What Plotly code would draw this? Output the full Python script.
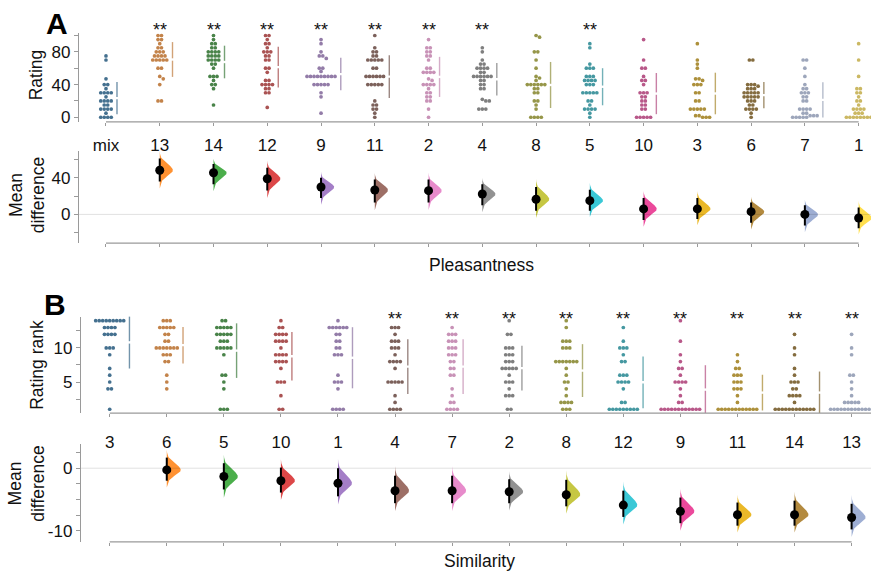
import numpy as np
import colorsys
import plotly.graph_objects as go

W, H = 871, 577

# ---------------- Panel A : Pleasantness ----------------
A_labels = ["mix", "13", "14", "12", "9", "11", "2", "4", "8", "5", "10", "3", "6", "7", "1"]
A_mix = [75, 70, 47, 40, 40, 35, 30, 30, 30, 30, 25, 20, 20, 20, 20, 15, 15, 10, 10, 10, 10, 5, 0, 0, 0, 0]
A_13 = [100, 100, 95, 95, 90, 85, 85, 80, 80, 80, 75, 75, 75, 75, 70, 70, 70, 70, 70, 60, 60, 50, 47, 40, 20, 20]
A_14 = [100, 95, 90, 90, 85, 85, 80, 80, 80, 80, 75, 75, 75, 75, 70, 70, 70, 70, 65, 65, 60, 50, 50, 50, 45, 40, 40, 35, 15]
A_12 = [100, 100, 95, 90, 90, 85, 80, 80, 80, 75, 75, 70, 70, 60, 60, 55, 45, 45, 40, 40, 40, 40, 35, 35, 30, 30, 12]
A_9 = [95, 90, 80, 75, 75, 72, 60, 60, 56] + [50] * 9 + [40] * 5 + [30, 25, 5]
A_11 = [100, 85, 80, 80, 75, 75] + [70] * 5 + [60, 60] + [50] * 6 + [40] * 5 + [20, 15, 15, 10, 10, 5, 0]
A_2 = [95, 85, 85, 80, 80, 75, 75, 70, 60, 60, 55, 55, 55, 55, 47, 45, 40, 40, 40, 40, 35, 30, 30, 25, 25, 20, 20, 10, 0]
A_4 = [85, 80, 70, 65, 65, 60, 60, 60, 60, 55, 55] + [50] * 6 + [45, 45, 40, 40, 35, 35, 22, 20, 20, 10, 10, 10]
A_8 = [100, 98, 80, 80, 70, 60, 50, 48, 45] + [40] * 6 + [35, 35, 30, 30, 20, 20, 15, 10, 0, 0, 0, 0]
A_5 = [90, 85, 65, 60, 60, 60, 50, 50, 50, 45, 45, 45, 45, 40, 40, 40, 30, 30, 30, 30, 30, 20, 20, 15, 10, 10, 10, 10, 5, 0]
A_10 = [95, 70, 60, 60, 50, 45, 45, 40, 30, 30, 30, 25, 25, 20, 20, 15, 15, 10, 10, 0, 0, 0, 0, 0]
A_3 = [90, 70, 65, 60, 47, 47, 45, 40, 40, 40, 30, 30, 20, 20, 10, 10, 10, 10, 10, 2, 2, 0, 0, 0]
A_6 = [70, 70, 40, 40, 40, 38, 35, 35, 35, 30, 30, 30, 30, 30, 25, 25, 25, 25, 25, 20, 20, 20, 15, 15, 10, 10, 10, 10, 5, 0]
A_7 = [70, 70, 60, 50, 40, 35, 35, 30, 30, 30, 25, 25, 20, 20, 10, 10, 10, 10, 5, 5, 2, 2, 2, 0, 0, 0, 0, 0]
A_1 = [90, 70, 50, 35, 35, 30, 30, 25, 20, 20, 15, 10, 10, 10, 10, 5, 5, 5, 0, 0, 0, 0, 0, 0, 0, 0]
A_groups = [A_mix, A_13, A_14, A_12, A_9, A_11, A_2, A_4, A_8, A_5, A_10, A_3, A_6, A_7, A_1]
A_sig = ["13", "14", "12", "9", "11", "2", "4", "5"]
# mean differences vs "mix" (13 ... 1) with 95% CI
A_diff = [48.2, 45.4, 38.9, 29.9, 26.6, 25.9, 22.3, 16.5, 15.0, 6.0, 6.0, 3.0, 0.0, -4.0]
A_ci_lo = [36, 33, 26, 18, 13, 13, 10, 4, 4, -6, -5, -9, -12, -15]
A_ci_hi = [61, 55, 51, 40, 38, 38, 33, 30, 27, 18, 18, 13, 10, 7.6]

# ---------------- Panel B : Similarity ----------------
B_labels = ["3", "6", "5", "10", "1", "4", "7", "2", "8", "12", "9", "11", "14", "13"]
B_3 = [14] * 9 + [13] * 4 + [12] * 4 + [10] * 3 + [9, 7, 6, 5, 4, 4, 1]
B_6 = [14] * 3 + [13] * 5 + [12] * 2 + [11] * 2 + [10] * 7 + [9] * 3 + [8] * 2 + [6, 5, 4]
B_5 = [14] * 2 + [13] * 5 + [12] * 5 + [11] * 3 + [10] * 5 + [9, 6, 6, 5, 4, 1, 1, 1]
B_10 = [14] + [13] * 2 + [12] * 4 + [11] * 4 + [10] + [9] * 4 + [8] * 4 + [7] + [5] * 3 + [3, 1, 1]
B_1 = [14] + [13] * 6 + [12] * 2 + [11] * 2 + [10] * 2 + [9] * 3 + [6] + [5] * 3 + [4] + [1] * 4
B_4 = [13] * 3 + [12] + [11] * 3 + [10] * 3 + [9] + [8] * 4 + [7] + [5] * 5 + [3, 2] + [1] * 4
B_7 = [13] + [12] * 3 + [11] * 3 + [10] * 3 + [9] * 3 + [8] * 2 + [7] * 2 + [6] * 2 + [4, 3, 2, 2] + [1] * 4
B_2 = [14] + [12] * 2 + [10] * 3 + [9] * 3 + [8] * 3 + [7] * 5 + [6] + [5] * 3 + [4] + [3] * 3 + [1] * 2
B_8 = [14, 13] + [11] * 3 + [10] * 3 + [8] * 7 + [7, 6, 5, 5, 4, 3] + [2] * 4 + [1] * 3
B_12 = [13, 11] + [10] * 3 + [9] + [8] * 2 + [6] * 3 + [5] * 4 + [4] + [2] * 2 + [1] * 9
B_9 = [14, 11, 9, 8, 7, 7, 6] + [5] * 4 + [4, 3, 2, 2] + [1] * 12
B_11 = [9, 8, 7, 7] + [6] * 3 + [5] * 3 + [4] * 3 + [3, 2] + [1] * 12
B_14 = [12, 10, 9, 7, 6] + [5] * 3 + [4] * 2 + [3] * 4 + [2] + [1] * 12
B_13 = [12, 10, 9, 6, 6, 5, 4, 3] + [2] * 5 + [1] * 13
B_groups = [B_3, B_6, B_5, B_10, B_1, B_4, B_7, B_2, B_8, B_12, B_9, B_11, B_14, B_13]
B_sig = ["4", "7", "2", "8", "12", "9", "11", "14", "13"]
# mean differences vs "3" (6 ... 13) with 95% CI
B_diff = [-0.27, -1.33, -2.0, -2.4, -3.6, -3.6, -3.76, -4.24, -5.9, -6.9, -7.46, -7.46, -7.9]
B_ci_lo = [-2.0, -3.4, -3.9, -4.5, -5.6, -5.6, -5.6, -6.1, -7.8, -8.8, -9.2, -9.2, -9.8]
B_ci_hi = [1.7, 0.8, 0.1, 0.0, -1.2, -1.2, -1.75, -1.86, -3.6, -4.7, -5.5, -5.2, -5.7]

palette = ['#1f77b4', '#ff7f0e', '#2ca02c', '#d62728', '#9467bd', '#8c564b', '#e377c2',
           '#7f7f7f', '#bcbd22', '#17becf', '#e7298a', '#e6ab02', '#a6761d', '#8da0cb', '#ffd92f']

GRAY = '#9a9a9a'
TXT = '#111111'
FONT = 'Liberation Sans, Arial, sans-serif'


def desat(hexc, p):
    r, g, b = (int(hexc[i:i + 2], 16) / 255 for i in (1, 3, 5))
    h, l, s = colorsys.rgb_to_hls(r, g, b)
    r, g, b = colorsys.hls_to_rgb(h, l, s * p)
    return '#%02x%02x%02x' % (round(r * 255), round(g * 255), round(b * 255))


def ydom(top_px, bot_px):
    return [1 - bot_px / H, 1 - top_px / H]


def swarm_x(values, ppx, ppy, d=3.5):
    vals = np.asarray(values, float)
    xs = np.zeros(len(vals))
    px_l, py_l = [], []
    for v in sorted(set(vals.tolist()), reverse=True):
        idx = np.where(vals == v)[0]
        k = len(idx)
        base = (np.arange(k) - (k - 1) / 2) * d
        y = v * ppy
        chosen = base
        if px_l:
            pxa, pya = np.array(px_l), np.array(py_l)
            for s in [0, 0.5, -0.5, 1, -1, 1.5, -1.5, 2, -2, 2.5, -2.5, 3, -3]:
                cand = base + s * d
                dist2 = (cand[:, None] - pxa[None, :]) ** 2 + (y - pya[None, :]) ** 2
                if np.all(dist2 >= (0.95 * d) ** 2):
                    chosen = cand
                    break
        xs[idx] = chosen
        px_l.extend(chosen.tolist())
        py_l.extend([y] * k)
    return xs / ppx, (np.max(np.abs(xs)) + d / 2)


fig = go.Figure()


def add_swarms(groups, xa, ya, ppx, ppy):
    for i, vals in enumerate(groups):
        col = desat(palette[i], 0.5)
        offs, half_px = swarm_x(vals, ppx, ppy)
        fig.add_trace(go.Scatter(x=i + offs, y=vals, mode='markers', xaxis=xa, yaxis=ya,
                                 marker=dict(size=3.7, color=col, line=dict(width=0)),
                                 showlegend=False, hoverinfo='skip'))
        m = float(np.mean(vals))
        sd = float(np.std(vals, ddof=1))
        lx = i + (half_px + 4) / ppx
        gap = 1.2 / ppy
        fig.add_trace(go.Scatter(x=[lx, lx, None, lx, lx], y=[m - sd, m - gap, None, m + gap, m + sd],
                                 mode='lines', xaxis=xa, yaxis=ya, opacity=0.75,
                                 line=dict(color=col, width=1.4),
                                 showlegend=False, hoverinfo='skip'))


def add_diffs(diff, lo, hi, xa, ya, width):
    for j, (m, l, h) in enumerate(zip(diff, lo, hi)):
        pos = j + 1
        su, sl = (h - m) / 1.96, (m - l) / 1.96
        z = np.linspace(-3.2, 3.2, 121)
        yv = np.where(z < 0, m + z * sl, m + z * su)
        xv = pos + width * np.exp(-0.5 * z ** 2)
        fig.add_trace(go.Scatter(x=np.concatenate([[pos], xv, [pos]]),
                                 y=np.concatenate([[yv[0]], yv, [yv[-1]]]),
                                 mode='lines', fill='toself', fillcolor=palette[pos],
                                 line=dict(width=0), opacity=0.85, xaxis=xa, yaxis=ya,
                                 showlegend=False, hoverinfo='skip'))
    xs, ys = [], []
    for j, (l, h) in enumerate(zip(lo, hi)):
        xs += [j + 1, j + 1, None]
        ys += [l, h, None]
    fig.add_trace(go.Scatter(x=xs, y=ys, mode='lines', line=dict(color='black', width=2),
                             xaxis=xa, yaxis=ya, showlegend=False, hoverinfo='skip'))
    fig.add_trace(go.Scatter(x=list(range(1, len(diff) + 1)), y=diff, mode='markers',
                             marker=dict(color='black', size=9), xaxis=xa, yaxis=ya,
                             showlegend=False, hoverinfo='skip'))


# geometry (pixel scales)
A_ppx, B_ppx = 53.76, 57.08
A_top_ppy, B_top_ppy = 0.825, 6.87

add_swarms(A_groups, 'x', 'y', A_ppx, A_top_ppy)
add_diffs(A_diff, A_ci_lo, A_ci_hi, 'x2', 'y2', 0.245)
add_swarms(B_groups, 'x3', 'y3', B_ppx, B_top_ppy)
add_diffs(B_diff, B_ci_lo, B_ci_hi, 'x4', 'y4', 0.245)

A_xr = [-0.502, 14.23]
B_xr = [-0.503, 13.34]


def xax(dom, rng, anchor, labels, n, standoff=None):
    d = dict(domain=dom, range=rng, anchor=anchor, tickvals=list(range(n)),
             ticks='outside', ticklen=3, tickcolor=GRAY, tickwidth=1,
             showline=False, showgrid=False, zeroline=False,
             tickfont=dict(size=17, color=TXT, family=FONT))
    if labels is None:
        d['showticklabels'] = False
    else:
        d['ticktext'] = labels
        d['ticklabelstandoff'] = standoff
    return d


def yax(dom, rng, anchor, vals, texts):
    return dict(domain=dom, range=rng, anchor=anchor, tickvals=vals, ticktext=texts,
                ticks='outside', ticklen=4, tickcolor=GRAY, tickwidth=1,
                showline=True, linecolor=GRAY, linewidth=1.3,
                showgrid=False, zeroline=False,
                tickfont=dict(size=17, color=TXT, family=FONT))


fig.update_layout(
    width=W, height=H, margin=dict(l=0, r=0, t=0, b=0),
    paper_bgcolor='white', plot_bgcolor='white',
    font=dict(family=FONT, color=TXT, size=17),
    xaxis=xax([79 / W, 1], A_xr, 'y', A_labels, 15, 5),
    yaxis=yax(ydom(33, 123), [-5.7, 103.4], 'x', [0, 20, 40, 60, 80, 100], ['0', '', '40', '', '80', '']),
    xaxis2=xax([79 / W, 1], A_xr, 'y2', None, 15),
    yaxis2=yax(ydom(152, 245.3), [-31.4, 69.5], 'x2', [-20, 0, 20, 40, 60], ['', '0', '', '40', '']),
    xaxis3=xax([81 / W, 1], B_xr, 'y3', B_labels, 14, 11),
    yaxis3=yax(ydom(319.3, 416.7), [0.44, 14.61], 'x3', [2.5, 5, 7.5, 10, 12.5], ['', '5', '', '10', '']),
    xaxis4=xax([81 / W, 1], B_xr, 'y4', None, 14),
    yaxis4=yax(ydom(448, 546.7), [-11.81, 3.86], 'x4', [2.5, 0, -2.5, -5, -7.5, -10], ['', '0', '', '', '', '-10']),
)

# x-axis lines (trimmed to first/last category) and zero lines
shapes = [
    dict(type='line', xref='x', yref='y domain', x0=0, x1=14, y0=0, y1=0, line=dict(color=GRAY, width=1.3)),
    dict(type='line', xref='x2', yref='y2 domain', x0=0, x1=14, y0=0, y1=0, line=dict(color=GRAY, width=1.3)),
    dict(type='line', xref='x3', yref='y3 domain', x0=0, x1=B_xr[1], y0=0, y1=0, line=dict(color=GRAY, width=1.3)),
    dict(type='line', xref='x4', yref='y4 domain', x0=0, x1=13, y0=0, y1=0, line=dict(color=GRAY, width=1.3)),
    dict(type='line', xref='x2 domain', yref='y2', x0=0, x1=1, y0=0, y1=0, layer='above',
         line=dict(color='rgba(0,0,0,0.12)', width=1)),
    dict(type='line', xref='x4 domain', yref='y4', x0=0, x1=1, y0=0, y1=0, layer='above',
         line=dict(color='rgba(0,0,0,0.12)', width=1)),
]
fig.update_layout(shapes=shapes)

ann = []
# significance stars
for lab in A_sig:
    ann.append(dict(x=A_labels.index(lab), xref='x', y=1 - 30 / H, yref='paper', text='**',
                    showarrow=False, font=dict(size=18, color=TXT), yanchor='middle'))
for lab in B_sig:
    ann.append(dict(x=B_labels.index(lab), xref='x3', y=1 - 321.5 / H, yref='paper', text='**',
                    showarrow=False, font=dict(size=18, color=TXT), yanchor='middle'))
# panel letters
ann.append(dict(x=57 / W, y=1 - 24 / H, xref='paper', yref='paper', text='<b>A</b>', showarrow=False,
                font=dict(size=30, color='black', family='Liberation Sans, Arial'), xanchor='center', yanchor='middle'))
ann.append(dict(x=55 / W, y=1 - 307 / H, xref='paper', yref='paper', text='<b>B</b>', showarrow=False,
                font=dict(size=30, color='black', family='Liberation Sans, Arial'), xanchor='center', yanchor='middle'))
# axis titles
ann.append(dict(x=36 / W, y=1 - 76 / H, xref='paper', yref='paper', text='Rating', textangle=-90,
                showarrow=False, font=dict(size=17.5), xanchor='center', yanchor='middle'))
ann.append(dict(x=27 / W, y=1 - 197 / H, xref='paper', yref='paper', text='Mean<br>difference', textangle=-90,
                showarrow=False, font=dict(size=17.5), xanchor='center', yanchor='middle'))
ann.append(dict(x=37 / W, y=1 - 368 / H, xref='paper', yref='paper', text='Rating rank', textangle=-90,
                showarrow=False, font=dict(size=17.5), xanchor='center', yanchor='middle'))
ann.append(dict(x=27 / W, y=1 - 488 / H, xref='paper', yref='paper', text='Mean<br>difference', textangle=-90,
                showarrow=False, font=dict(size=17.5), xanchor='center', yanchor='middle'))
ann.append(dict(x=481 / W, y=1 - 267 / H, xref='paper', yref='paper', text='Pleasantness',
                showarrow=False, font=dict(size=17.5), xanchor='center', yanchor='middle'))
ann.append(dict(x=479 / W, y=1 - 566 / H, xref='paper', yref='paper', text='Similarity',
                showarrow=False, font=dict(size=17.5), xanchor='center', yanchor='middle'))
fig.update_layout(annotations=ann)

fig.write_html("out.html", config={'displayModeBar': False},
               post_script="document.body.style.margin='0';")
